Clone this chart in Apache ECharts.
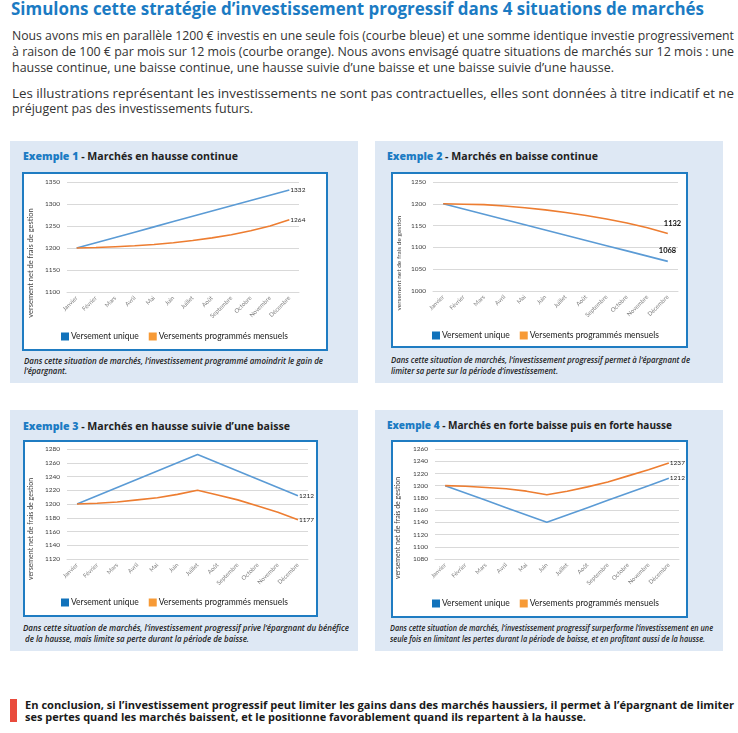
<!DOCTYPE html>
<html>
<head>
<meta charset="utf-8">
<script src="https://cdn.jsdelivr.net/npm/echarts@6/dist/echarts.min.js"></script>
<style>
html,body{margin:0;padding:0;background:#fff;}
body{width:738px;height:733px;position:relative;overflow:hidden;font-family:'Open Sans',sans-serif;}
.t{position:absolute;white-space:nowrap;transform-origin:0 50%;}
.panel{position:absolute;background:#dee8f4;}
.box{position:absolute;border:2px solid #1f7cc2;background:#fff;box-sizing:border-box;}
.box>div{position:absolute;left:0;top:0;right:0;bottom:0;}
.title{font-weight:700;font-size:17px;line-height:20px;color:#1b7bc3;}
.para{font-size:12px;line-height:16px;color:#333;}
.ptitle{font-weight:700;font-size:11px;line-height:14px;color:#222;}
.ptitle b{color:#1b7bc3;}
.cap{font-style:italic;font-weight:600;font-size:8px;line-height:11px;color:#222;}
.concl{font-weight:700;font-size:10.5px;line-height:12px;color:#1a1a1a;}
</style>
</head>
<body>
<div class="t title fit" data-w="693" style="left:11px;top:-1px;">Simulons cette stratégie d’investissement progressif dans 4 situations de marchés</div>

<div class="t para fit" data-w="722" style="left:12px;top:27.5px;">Nous avons mis en parallèle 1200 € investis en une seule fois (courbe bleue) et une somme identique investie progressivement</div>
<div class="t para fit" data-w="722" style="left:12px;top:43.5px;">à raison de 100 € par mois sur 12 mois (courbe orange). Nous avons envisagé quatre situations de marchés sur 12 mois : une</div>
<div class="t para fit" data-w="602" style="left:12px;top:59.5px;">hausse continue, une baisse continue, une hausse suivie d’une baisse et une baisse suivie d’une hausse.</div>
<div class="t para fit" data-w="722" style="left:12px;top:85.5px;">Les illustrations représentant les investissements ne sont pas contractuelles, elles sont données à titre indicatif et ne</div>
<div class="t para fit" data-w="241" style="left:12px;top:101px;">préjugent pas des investissements futurs.</div>

<div class="panel" style="left:10px;top:141px;width:348px;height:242px;"></div>
<div class="panel" style="left:375px;top:141px;width:348px;height:242px;"></div>
<div class="panel" style="left:10px;top:410px;width:348px;height:241px;"></div>
<div class="panel" style="left:375px;top:410px;width:348px;height:241px;"></div>

<div class="t ptitle fit" data-w="215" style="left:23px;top:149px;"><b>Exemple 1</b> - Marchés en hausse continue</div>
<div class="t ptitle fit" data-w="211" style="left:387px;top:149px;"><b>Exemple 2</b> - Marchés en baisse continue</div>
<div class="t ptitle fit" data-w="267" style="left:23px;top:419px;"><b>Exemple 3</b> - Marchés en hausse suivie d’une baisse</div>
<div class="t ptitle fit" data-w="285" style="left:387px;top:418px;"><b>Exemple 4</b> - Marchés en forte baisse puis en forte hausse</div>

<div class="box" style="left:22px;top:172px;width:306px;height:179px;"><div id="c1"></div></div>
<div class="box" style="left:391px;top:172px;width:297px;height:176px;"><div id="c2"></div></div>
<div class="box" style="left:23px;top:440px;width:295px;height:177px;"><div id="c3"></div></div>
<div class="box" style="left:391px;top:440px;width:297px;height:178px;"><div id="c4"></div></div>

<div class="t cap fit" data-w="299" style="left:24px;top:354.5px;">Dans cette situation de marchés, l’investissement programmé amoindrit le gain de</div>
<div class="t cap fit" data-w="43" style="left:24px;top:364.5px;">l’épargnant.</div>
<div class="t cap fit" data-w="299" style="left:391px;top:353.5px;">Dans cette situation de marchés, l’investissement progressif permet à l’épargnant de</div>
<div class="t cap fit" data-w="167" style="left:391px;top:364.5px;">limiter sa perte sur la période d’investissement.</div>
<div class="t cap fit" data-w="326" style="left:23px;top:621.5px;">Dans cette situation de marchés, l’investissement progressif prive l’épargnant du bénéfice</div>
<div class="t cap fit" data-w="224" style="left:25px;top:632.5px;">de la hausse, mais limite sa perte durant la période de baisse.</div>
<div class="t cap fit" data-w="323" style="left:390px;top:621.5px;">Dans cette situation de marchés, l’investissement progressif surperforme l’investissement en une</div>
<div class="t cap fit" data-w="315" style="left:390px;top:632.5px;">seule fois en limitant les pertes durant la période de baisse, et en profitant aussi de la hausse.</div>

<div style="position:absolute;left:10px;top:699px;width:7px;height:23px;background:#e94b3c;"></div>
<div class="t concl fit" data-w="709" style="left:25px;top:699px;">En conclusion, si l’investissement progressif peut limiter les gains dans des marchés haussiers, il permet à l’épargnant de limiter</div>
<div class="t concl fit" data-w="561" style="left:25px;top:710.5px;">ses pertes quand les marchés baissent, et le positionne favorablement quand ils repartent à la hausse.</div>

<script>
// ---- Data ----
const months = ['Janvier','Février','Mars','Avril','Mai','Juin','Juillet','Août','Septembre','Octobre','Novembre','Décembre'];
const seriesNames = ['Versement unique','Versements programmés mensuels'];
const yAxisName = 'versement net de frais de gestion';

const ex1Unique  = [1200,1212,1224,1236,1248,1260,1272,1284,1296,1308,1320,1332];
const ex1Mensuel = [1200,1201,1203,1205,1208,1212,1217,1223,1230,1239,1250,1264];
const ex1YTicks  = [1100,1150,1200,1250,1300,1350];

const ex2Unique  = [1200,1188,1176,1164,1152,1140,1128,1116,1104,1092,1080,1068];
const ex2Mensuel = [1200,1199,1198,1195,1191,1186,1180,1173,1165,1156,1145,1132];
const ex2YTicks  = [1000,1050,1100,1150,1200,1250];

const ex3Unique  = [1200,1212,1224,1236,1248,1260,1272,1260,1248,1236,1224,1212];
const ex3Mensuel = [1200,1201,1203,1206,1209,1214,1220,1213,1206,1197,1188,1177];
const ex3YTicks  = [1120,1140,1160,1180,1200,1220,1240,1260,1280];

const ex4Unique  = [1200,1188,1176,1164,1152,1140,1152,1164,1176,1188,1200,1212];
const ex4Mensuel = [1200,1199,1197,1195,1191,1185,1191,1198,1206,1216,1226,1237];
const ex4YTicks  = [1080,1100,1120,1140,1160,1180,1200,1220,1240,1260];

// ---- fit text lines ----
document.querySelectorAll('.fit').forEach(e => {
  const w = e.getBoundingClientRect().width;
  e.style.transform = 'scaleX(' + (parseFloat(e.dataset.w) / w) + ')';
});

const BLUE = '#5b9bd5', ORANGE = '#ed7d31';
const FONT = 'Lato';

function build(id, cfg) {
  const chart = echarts.init(document.getElementById(id), null, { renderer: 'canvas' });
  const ticks = cfg.ticks;
  const endLbl = (off) => cfg.boldLabels
    ? { show: true, formatter: p => String(p.value), offset: off, distance: 0, fontSize: 7.5, fontWeight: 'bold', color: '#111', fontFamily: FONT }
    : { show: true, formatter: p => String(p.value), distance: 1, fontSize: 6.5, color: '#222', fontFamily: FONT };
  chart.setOption({
    animation: false,
    textStyle: { fontFamily: FONT },
    grid: cfg.grid,
    legend: {
      left: cfg.legendLeft, top: cfg.legendTop, padding: 0,
      icon: 'rect', itemWidth: 8, itemHeight: 8, itemGap: 10,
      textStyle: { fontSize: 8.5, color: '#222', fontFamily: FONT, padding: [0, 0, 0, -3] },
      data: [
        { name: seriesNames[0], itemStyle: { color: '#1172bb' } },
        { name: seriesNames[1], itemStyle: { color: '#f79a36' } }
      ]
    },
    xAxis: {
      type: 'category', data: months, boundaryGap: true,
      axisLine: { show: true, lineStyle: { color: '#d9d9d9', width: 1 } },
      axisTick: { show: false },
      axisLabel: { rotate: 45, interval: 0, fontSize: 6, color: '#7f7f7f', margin: 5, fontFamily: FONT }
    },
    yAxis: {
      type: 'value', min: ticks[0], max: ticks[ticks.length - 1], interval: ticks[1] - ticks[0],
      axisLine: { show: false }, axisTick: { show: false },
      splitLine: { lineStyle: { color: '#d9d9d9', width: 1 } },
      axisLabel: { fontSize: 6.5, color: '#404040', margin: 7, fontFamily: FONT, formatter: v => String(v) }
    },
    graphic: [{
      type: 'text', x: cfg.nameX, y: cfg.nameY, rotation: Math.PI / 2,
      style: { text: yAxisName, fontSize: cfg.nameSize, fill: '#404040', align: 'center', verticalAlign: 'middle', fontFamily: FONT }
    }],
    series: [
      { name: seriesNames[0], type: 'line', data: cfg.unique, showSymbol: false, symbol: 'circle', symbolSize: 1,
        endLabel: endLbl([-9, -11]), lineStyle: { color: BLUE, width: 1.6 }, itemStyle: { color: BLUE }, z: 2 },
      { name: seriesNames[1], type: 'line', data: cfg.mensuel, showSymbol: false, symbol: 'circle', symbolSize: 1,
        endLabel: endLbl([-4, -10]), lineStyle: { color: ORANGE, width: 1.6 }, itemStyle: { color: ORANGE }, z: 3 }
    ]
  });
}

build('c1', { unique: ex1Unique, mensuel: ex1Mensuel, ticks: ex1YTicks,
  grid: { left: 43, right: 27, top: 8, bottom: 57 }, legendLeft: 37, legendTop: 158,
  nameX: 7, nameY: 89, nameSize: 7.5 });
build('c2', { unique: ex2Unique, mensuel: ex2Mensuel, ticks: ex2YTicks, boldLabels: true,
  grid: { left: 40, right: 8, top: 8, bottom: 55 }, legendLeft: 39, legendTop: 157,
  nameX: 6, nameY: 89, nameSize: 6.5 });
build('c3', { unique: ex3Unique, mensuel: ex3Mensuel, ticks: ex3YTicks,
  grid: { left: 42, right: 8, top: 7, bottom: 56 }, legendLeft: 36, legendTop: 156,
  nameX: 6, nameY: 87, nameSize: 7 });
build('c4', { unique: ex4Unique, mensuel: ex4Mensuel, ticks: ex4YTicks,
  grid: { left: 42, right: 7, top: 7, bottom: 57 }, legendLeft: 39, legendTop: 157,
  nameX: 5, nameY: 86, nameSize: 7 });
</script>
</body>
</html>
